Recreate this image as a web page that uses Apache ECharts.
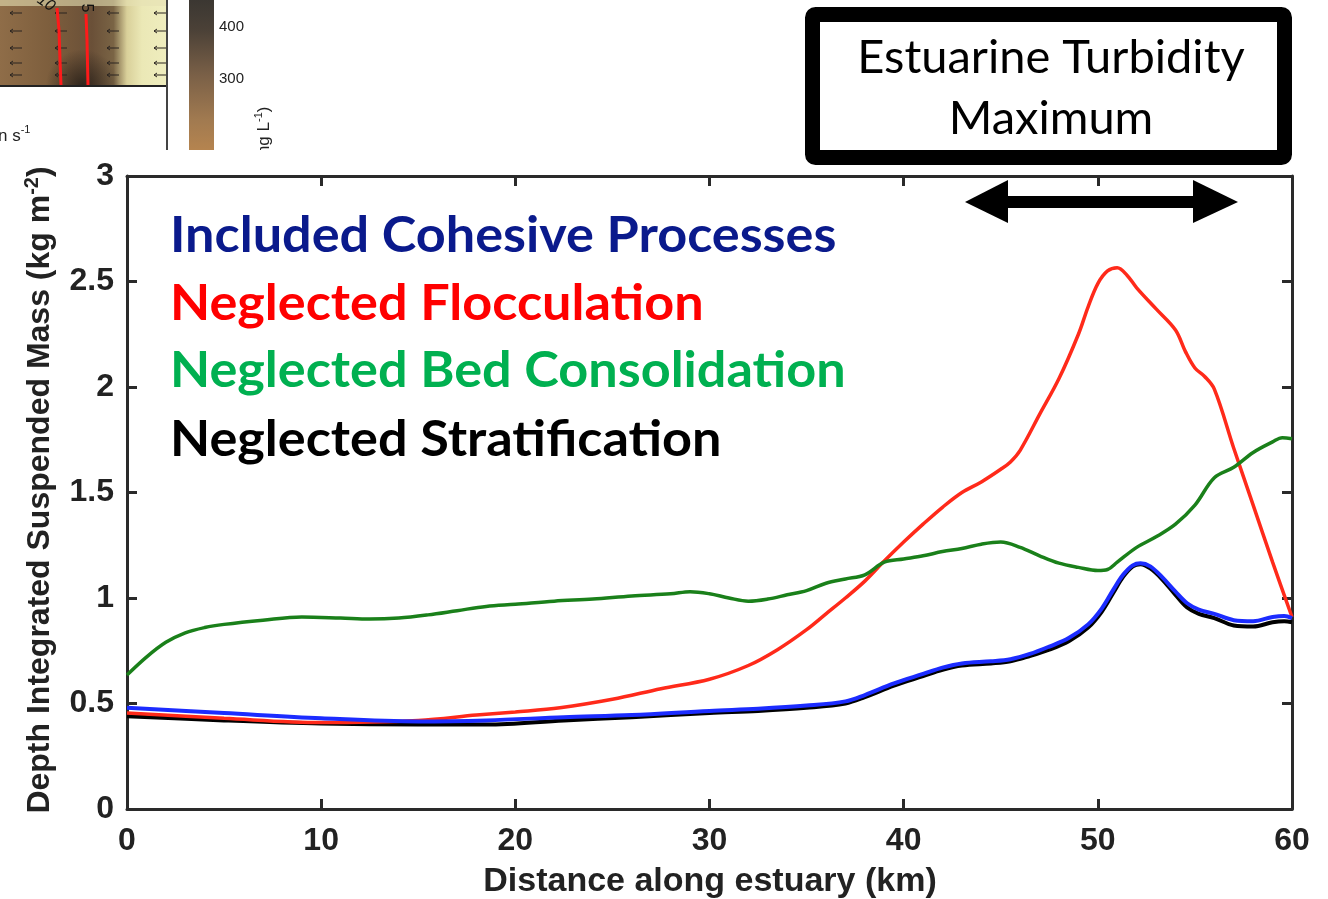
<!DOCTYPE html>
<html><head><meta charset="utf-8">
<script src="https://cdn.jsdelivr.net/npm/echarts@6/dist/echarts.min.js"></script>
<style>html,body{margin:0;padding:0;background:#fff}#c{width:1328px;height:899px}</style>
</head><body><div id="c"></div>
<script>
// ---- data (distance along estuary, km / depth-integrated suspended mass, kg m^-2) ----
const xTickValues = [0, 10, 20, 30, 40, 50, 60];
const yTickValues = [0, 0.5, 1, 1.5, 2, 2.5, 3];

const distStrat = [0,5,10,15,18.5,22.5,26,30,32.5,35,37,38,39.5,41,42,43,44.5,45.5,46.5,47.5,48.5,49.5,50.2,50.8,51.3,51.8,52.2,52.7,53.3,54,54.6,55.2,56,57,58,59,59.6,60];
const massStrat = [0.44,0.42,0.405,0.40,0.40,0.42,0.435,0.455,0.465,0.48,0.50,0.53,0.585,0.63,0.66,0.68,0.69,0.70,0.725,0.755,0.795,0.86,0.935,1.025,1.10,1.15,1.16,1.14,1.09,1.015,0.955,0.925,0.905,0.87,0.865,0.885,0.89,0.885];

const distIncluded = [0,5,10,15,18.5,22.5,26,30,32.5,35,37,38,39.5,41,42,43,44.5,45.5,46.5,47.5,48.5,49.5,50.2,50.8,51.3,51.8,52.2,52.7,53.3,54,54.6,55.2,56,57,58,59,59.6,60];
const massIncluded = [0.48,0.455,0.43,0.415,0.42,0.435,0.445,0.465,0.475,0.49,0.51,0.54,0.595,0.64,0.67,0.69,0.70,0.71,0.735,0.77,0.81,0.875,0.95,1.04,1.11,1.155,1.165,1.15,1.10,1.03,0.975,0.945,0.925,0.895,0.89,0.91,0.915,0.905];

const distFloc = [0,5,10,15,18,20,22.3,25,27.5,30,32,33.5,35,36,37,38,39,40,41,42,43,44,45,45.5,46,47,48,49,49.5,50,50.5,51,51.5,52,53,54,54.5,55,55.5,56,57,58,59,60];
const massFloc = [0.455,0.43,0.41,0.42,0.445,0.46,0.48,0.52,0.57,0.615,0.68,0.755,0.85,0.925,1.0,1.08,1.175,1.265,1.35,1.43,1.50,1.55,1.61,1.645,1.70,1.87,2.04,2.25,2.38,2.49,2.55,2.565,2.53,2.47,2.37,2.27,2.17,2.09,2.05,1.99,1.71,1.44,1.17,0.91];

const distBed = [0,1,2,3,4,5,7,9,11,12.5,14,15.5,17,18.5,20,22,24,26,28,29,30,31,32,33,34,35,36,37,38,39,40,41,42,43,44,45,46,47,48,49,50,50.5,51,52,53,54,55,56,57,58,59,59.5,60];
const massBed = [0.635,0.72,0.79,0.835,0.86,0.875,0.895,0.91,0.905,0.90,0.905,0.92,0.94,0.96,0.97,0.985,0.995,1.01,1.02,1.03,1.02,1.0,0.985,0.995,1.015,1.035,1.07,1.09,1.11,1.17,1.185,1.20,1.22,1.235,1.255,1.265,1.24,1.20,1.165,1.145,1.13,1.135,1.17,1.24,1.29,1.35,1.44,1.57,1.62,1.69,1.74,1.76,1.755];

const seriesNames = ['Neglected Stratification','Neglected Flocculation','Included Cohesive Processes','Neglected Bed Consolidation'];
const legendLabels = ['Included Cohesive Processes','Neglected Flocculation','Neglected Bed Consolidation','Neglected Stratification'];

function pairs(xs, ys){ return xs.map((x,i)=>[x, ys[i]]); }

const chart = echarts.init(document.getElementById('c'), null, {renderer:'canvas'});
const AX = '#2a2a2a';
const tickFont = {fontFamily:'Liberation Sans, Arial, sans-serif', fontWeight:'bold', fontSize:32, color:'#222'};

function mkLine(name, xs, ys, color, w){
  return {type:'line', name, data:pairs(xs,ys), showSymbol:false, smooth:0.35,
    lineStyle:{color, width:w}, itemStyle:{color}, xAxisIndex:0, yAxisIndex:0, z:3};
}

const legendColors = ['#0a1a8c','#ff0000','#00b050','#000000'];
const legendY = [236, 304, 371, 440];

const graphic = [];
// --- fragment of neighbouring panel (top-left) ---
graphic.push({type:'rect', shape:{x:0,y:0,width:167,height:86}, style:{fill:{type:'linear',x:0,y:0,x2:1,y2:0,colorStops:[
  {offset:0,color:'#8f6d48'},{offset:0.3,color:'#7d5e3d'},{offset:0.55,color:'#6a5038'},{offset:0.68,color:'#7a6445'},{offset:0.76,color:'#d9d09a'},{offset:0.85,color:'#ebe8b6'},{offset:1,color:'#efedbe'}]}}, silent:true});
graphic.push({type:'rect', shape:{x:40,y:40,width:85,height:46}, style:{fill:{type:'radial',x:0.5,y:1,r:0.8,colorStops:[{offset:0,color:'rgba(40,32,25,0.9)'},{offset:1,color:'rgba(40,32,25,0)'}]}}, silent:true});
graphic.push({type:'rect', shape:{x:0,y:0,width:167,height:6}, style:{fill:'rgba(230,225,180,0.6)'}, silent:true});
[18,63,115,162].forEach(cx=>{[13,31,48,63,75].forEach(cy=>{
  graphic.push({type:'line', shape:{x1:cx-8,y1:cy,x2:cx+4,y2:cy}, style:{stroke:'#2a2420',lineWidth:1}, silent:true});
  graphic.push({type:'polyline', shape:{points:[[cx-5,cy-2],[cx-8,cy],[cx-5,cy+2]]}, style:{stroke:'#2a2420',lineWidth:1,fill:null}, silent:true});
});});
graphic.push({type:'polyline', shape:{points:[[57,8],[59,30],[60,60],[61,86]]}, style:{stroke:'#ff1a1a',lineWidth:3,fill:null}, silent:true});
graphic.push({type:'polyline', shape:{points:[[86,14],[87,40],[88,86]]}, style:{stroke:'#ff1a1a',lineWidth:3,fill:null}, silent:true});
graphic.push({type:'text', x:46, y:3, rotation:-0.6, style:{text:'10', font:'italic 16px Liberation Sans, Arial', fill:'#111', align:'center', verticalAlign:'middle'}, silent:true});
graphic.push({type:'text', x:86, y:8, rotation:-Math.PI/2, style:{text:'5', font:'16px Liberation Sans, Arial', fill:'#111', align:'center', verticalAlign:'middle'}, silent:true});
graphic.push({type:'line', shape:{x1:0,y1:86,x2:167,y2:86}, style:{stroke:'#222',lineWidth:2}, silent:true});
graphic.push({type:'line', shape:{x1:167,y1:0,x2:167,y2:150}, style:{stroke:'#444',lineWidth:2}, silent:true});
graphic.push({type:'text', x:-2, y:136, style:{text:'n s{s|-1}', font:'17px Liberation Sans, Arial', fill:'#222', align:'left', verticalAlign:'middle', rich:{s:{fontSize:11, verticalAlign:'top', padding:[0,0,12,0], fill:'#222'}}}, silent:true});
graphic.push({type:'rect', shape:{x:189,y:0,width:25,height:150}, style:{fill:{type:'linear',x:0,y:0,x2:0,y2:1,colorStops:[
  {offset:0,color:'#3b3732'},{offset:0.2,color:'#4b4137'},{offset:0.5,color:'#7a6047'},{offset:0.8,color:'#a17a50'},{offset:1,color:'#b5844f'}]}}, silent:true});
graphic.push({type:'text', x:219, y:27, style:{text:'400', font:'15px Liberation Sans, Arial', fill:'#222', align:'left', verticalAlign:'middle'}, silent:true});
graphic.push({type:'text', x:219, y:79, style:{text:'300', font:'15px Liberation Sans, Arial', fill:'#222', align:'left', verticalAlign:'middle'}, silent:true});
graphic.push({type:'text', x:264, y:136, rotation:Math.PI/2, style:{text:'(mg L{s|-1})', font:'17px Liberation Sans, Arial', fill:'#222', align:'center', verticalAlign:'middle', rich:{s:{fontSize:11, verticalAlign:'top', padding:[0,0,10,0], fill:'#222'}}}, silent:true});
graphic.push({type:'rect', shape:{x:180,y:150,width:120,height:20}, style:{fill:'#fff'}, silent:true, z:50});

// --- ETM box & arrow ---
graphic.push({type:'rect', shape:{x:812.5,y:14.5,width:472,height:143,r:3}, style:{fill:'#fff', stroke:'#000', lineWidth:15}, silent:true});
graphic.push({type:'text', x:1051, y:58, style:{text:'Estuarine Turbidity', font:'47px Lato, sans-serif', fill:'#000', align:'center', verticalAlign:'middle'}, silent:true});
graphic.push({type:'text', x:1051, y:119, style:{text:'Maximum', font:'47px Lato, sans-serif', fill:'#000', align:'center', verticalAlign:'middle'}, silent:true});
graphic.push({type:'rect', shape:{x:1004,y:196,width:192,height:12}, style:{fill:'#000'}, silent:true});
graphic.push({type:'polygon', shape:{points:[[965,202],[1008,180],[1008,223]]}, style:{fill:'#000'}, silent:true});
graphic.push({type:'polygon', shape:{points:[[1238,202],[1193,180],[1193,223]]}, style:{fill:'#000'}, silent:true});

// --- legend texts ---
legendLabels.forEach((t,i)=>{
  graphic.push({type:'text', x:170, y:legendY[i], scaleX:1.065, style:{text:t, font:'bold 49px Lato, sans-serif', fill:legendColors[i], align:'left', verticalAlign:'middle'}, silent:true, z:10});
});

// --- axis titles ---
graphic.push({type:'text', x:710, y:882, style:{text:'Distance along estuary (km)', font:'bold 34px Liberation Sans, Arial', fill:'#222', align:'center', verticalAlign:'middle'}, silent:true});
graphic.push({type:'text', x:40, y:490, rotation:Math.PI/2, style:{text:'{a|Depth Integrated Suspended Mass (kg m}{s|-2}{a|)}', align:'center', verticalAlign:'middle', rich:{
  a:{fontFamily:'Liberation Sans, Arial', fontWeight:'bold', fontSize:32, fill:'#222'},
  s:{fontFamily:'Liberation Sans, Arial', fontWeight:'bold', fontSize:20, fill:'#222', verticalAlign:'top', padding:[0,0,15,0]}}}, silent:true});

const baseX = {type:'value', min:0, max:60, interval:10,
  axisLine:{show:true, onZero:false, lineStyle:{color:AX, width:3}},
  axisTick:{show:true, inside:true, length:10, lineStyle:{color:AX, width:3}},
  splitLine:{show:false}};
const baseY = {type:'value', min:0, max:3, interval:0.5,
  axisLine:{show:true, onZero:false, lineStyle:{color:AX, width:3}},
  axisTick:{show:true, inside:true, length:10, lineStyle:{color:AX, width:3}},
  splitLine:{show:false}};

chart.setOption({
  animation:false,
  backgroundColor:'#fff',
  grid:{left:127, right:36, top:176, bottom:90, containLabel:false},
  xAxis:[
    Object.assign({}, baseX, {position:'bottom', axisLabel:Object.assign({margin:16}, tickFont)}),
    Object.assign({}, baseX, {position:'top', axisLabel:{show:false}})
  ],
  yAxis:[
    Object.assign({}, baseY, {position:'left', axisLabel:Object.assign({margin:13}, tickFont)}),
    Object.assign({}, baseY, {position:'right', axisLabel:{show:false}})
  ],
  series:[
    mkLine(seriesNames[0], distStrat, massStrat, '#000000', 4),
    mkLine(seriesNames[1], distFloc, massFloc, '#ff2a1a', 3.5),
    mkLine(seriesNames[2], distIncluded, massIncluded, '#1c2cff', 4),
    mkLine(seriesNames[3], distBed, massBed, '#1a801a', 3.5)
  ],
  graphic:graphic
});
</script></body></html>
